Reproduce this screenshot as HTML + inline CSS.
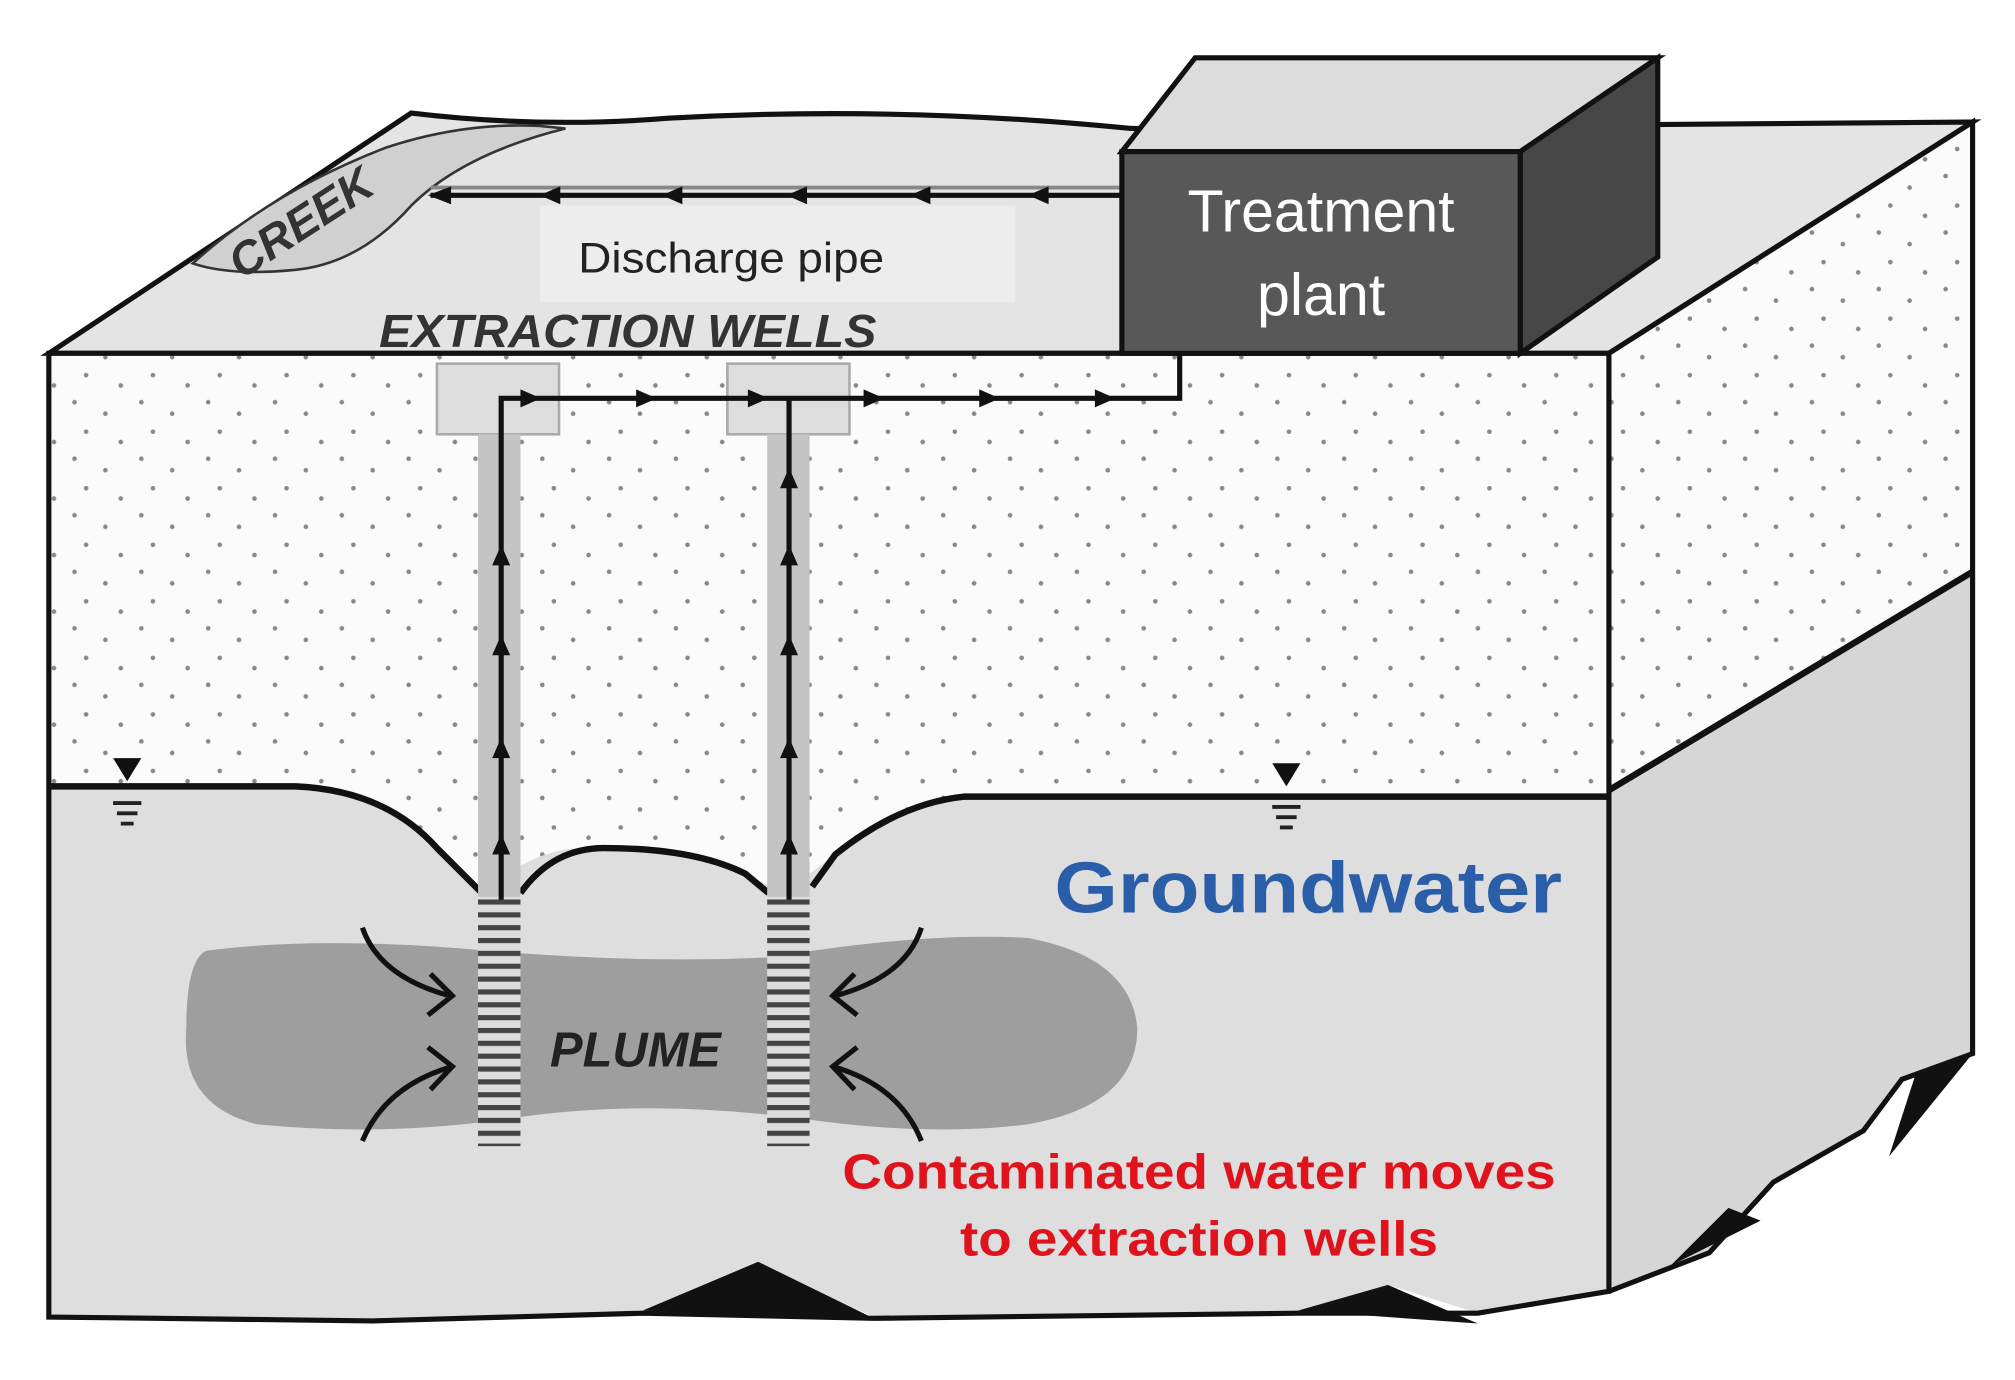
<!DOCTYPE html>
<html><head><meta charset="utf-8"><style>html,body{margin:0;padding:0;background:#fff}svg{display:block}</style></head>
<body>
<svg width="2015" height="1380" viewBox="0 0 1568 1074" preserveAspectRatio="none" xmlns="http://www.w3.org/2000/svg" font-family="Liberation Sans, sans-serif">
<defs>
<pattern id="dots" width="52" height="44" patternUnits="userSpaceOnUse">
<rect width="52" height="44" fill="#fbfbfb"/>
<circle cx="6" cy="5" r="1.8" fill="#888"/><circle cx="30" cy="14" r="1.8" fill="#888"/>
<circle cx="15" cy="28" r="1.8" fill="#888"/><circle cx="42" cy="36" r="1.8" fill="#888"/>
</pattern>
<pattern id="screen" width="10" height="10" patternUnits="userSpaceOnUse">
<rect width="10" height="10" fill="#ddd"/><rect y="0" width="10" height="4" fill="#444"/>
</pattern>
</defs>
<!-- top surface -->
<path d="M38,275 L320,88 Q420,100 520,92 Q700,82 880,100 L1535,95 L1252,275 Z" fill="#e4e4e4" stroke="#111" stroke-width="4"/>
<rect x="420" y="160" width="370" height="75" fill="#ededed"/>
<!-- creek -->
<path d="M150,205 Q210,150 300,115 Q360,95 420,98 L440,100 Q360,120 320,160 Q280,205 230,210 Q180,215 150,205Z" fill="#d0d0d0" stroke="#333" stroke-width="2"/>
<text x="0" y="0" font-size="36" font-weight="bold" font-style="italic" fill="#333" transform="translate(188,218) rotate(-33)">CREEK</text>
<!-- front face -->
<path d="M38,275 L1252,275 L1252,720 L38,720 Z" fill="url(#dots)"/>
<path d="M38,612 L230,612 Q300,615 340,660 L375,695 Q420,655 470,660 Q540,660 580,680 L610,695 L650,665 Q700,625 750,620 L1252,620 L1252,1005 L1150,1022 L1080,1000 L1010,1020 L680,1025 L590,985 L500,1020 L290,1028 L38,1025 Z" fill="#dedede"/>
<path d="M500,1020 L590,982 L680,1026 Z" fill="#111"/>
<path d="M1010,1020 L1080,1000 L1150,1030 Z" fill="#111"/>
<!-- right face -->
<path d="M1252,275 L1535,95 L1535,445 L1252,615 Z" fill="url(#dots)"/>
<path d="M1252,615 L1535,445 L1535,820 L1480,840 L1450,880 L1380,920 L1330,975 L1252,1005 Z" fill="#d6d6d6"/>
<path d="M1490,838 L1535,820 L1470,900 Z M1300,985 L1345,940 L1370,950 Z" fill="#111"/>
<path d="M1252,275 L1535,95 L1535,820 L1480,840 L1450,880 L1380,920 L1330,975 L1252,1005" fill="none" stroke="#111" stroke-width="4"/>
<path d="M1252,615 L1535,445" stroke="#111" stroke-width="5"/>
<!-- front outline -->
<path d="M38,275 L1252,275 L1252,1005 L1150,1022 L1010,1022 L680,1026 L500,1022 L290,1028 L38,1025 Z" fill="none" stroke="#111" stroke-width="4"/>
<!-- plume -->
<path d="M160,740 Q250,728 380,740 Q500,750 600,745 Q720,725 800,730 Q880,745 885,800 Q885,860 800,875 Q720,885 620,870 Q500,855 400,870 Q300,885 200,875 Q140,860 145,800 Q145,748 160,740Z" fill="#9e9e9e"/>
<text x="428" y="830" font-size="38" font-weight="bold" font-style="italic" fill="#222">PLUME</text>
<!-- water table line -->
<path d="M38,612 L230,612 Q300,615 340,660 L375,695 M405,695 Q430,660 470,660 Q540,660 580,680 L598,695 M632,690 L650,665 Q700,625 750,620 L1252,620" fill="none" stroke="#111" stroke-width="5"/>
<path d="M88,590 L110,590 L99,608Z" fill="#111"/><path d="M88,625h22M91,633h16M94,641h10" stroke="#222" stroke-width="3"/>
<path d="M990,594 L1012,594 L1001,612Z" fill="#111"/><path d="M990,628h22M993,636h16M996,644h10" stroke="#222" stroke-width="3"/>
<!-- wells -->
<rect x="340" y="283" width="95" height="55" fill="#ddd" stroke="#aaa" stroke-width="2"/>
<rect x="566" y="283" width="95" height="55" fill="#ddd" stroke="#aaa" stroke-width="2"/>
<rect x="372" y="338" width="33" height="360" fill="#c4c4c4"/>
<rect x="597" y="338" width="33" height="360" fill="#c4c4c4"/>
<rect x="372" y="700" width="33" height="192" fill="url(#screen)"/>
<rect x="597" y="700" width="33" height="192" fill="url(#screen)"/>
<!-- flow lines -->
<path d="M390,700 L390,310 L918,310 L918,275" fill="none" stroke="#111" stroke-width="4"/>
<path d="M614,700 L614,310" fill="none" stroke="#111" stroke-width="4"/>
<g fill="#111">
<path d="M383,665l7,-16l7,16z M383,590l7,-16l7,16z M383,510l7,-16l7,16z M383,440l7,-16l7,16z"/>
<path d="M607,665l7,-16l7,16z M607,590l7,-16l7,16z M607,510l7,-16l7,16z M607,440l7,-16l7,16z M607,380l7,-16l7,16z"/>
<path d="M405,303l16,7l-16,7z M495,303l16,7l-16,7z M582,303l16,7l-16,7z M672,303l16,7l-16,7z M762,303l16,7l-16,7z M852,303l16,7l-16,7z"/>
</g>
<!-- discharge pipe -->
<path d="M335,152 L872,152" stroke="#111" stroke-width="4"/>
<path d="M335,146 L872,146" stroke="#888" stroke-width="3"/>
<g fill="#111"><path d="M333,152l18,-7v14z M420,152l16,-7v14z M515,152l16,-7v14z M612,152l16,-7v14z M708,152l16,-7v14z M800,152l16,-7v14z"/></g>
<text x="450" y="212" font-size="33" fill="#222" textLength="238" lengthAdjust="spacingAndGlyphs">Discharge pipe</text>
<text x="295" y="270" font-size="36" font-weight="bold" font-style="italic" fill="#333" textLength="387" lengthAdjust="spacingAndGlyphs">EXTRACTION WELLS</text>
<!-- treatment plant -->
<path d="M873,118 L930,45 L1290,45 L1183,118Z" fill="#dcdcdc" stroke="#111" stroke-width="4"/>
<path d="M1183,118 L1290,45 L1290,200 L1183,275Z" fill="#474747" stroke="#111" stroke-width="4"/>
<rect x="873" y="118" width="310" height="157" fill="#585858" stroke="#111" stroke-width="4"/>
<text x="1028" y="180" font-size="46" fill="#fff" text-anchor="middle">Treatment</text>
<text x="1028" y="245" font-size="46" fill="#fff" text-anchor="middle">plant</text>
<!-- curved arrows -->
<g fill="none" stroke="#111" stroke-width="4">
<path d="M282,722 Q295,760 350,775"/><path d="M335,758 L352,775 L333,790"/>
<path d="M282,888 Q300,845 352,830"/><path d="M333,815 L352,830 L335,848"/>
<path d="M717,722 Q705,760 650,775"/><path d="M665,758 L648,775 L667,790"/>
<path d="M717,888 Q700,845 648,830"/><path d="M667,815 L648,830 L665,848"/>
</g>
<text x="1018" y="710" font-size="56" font-weight="bold" fill="#2a5ea8" text-anchor="middle" textLength="395" lengthAdjust="spacingAndGlyphs">Groundwater</text>
<text x="933" y="925" font-size="38" font-weight="bold" fill="#e0121b" text-anchor="middle" textLength="555" lengthAdjust="spacingAndGlyphs">Contaminated water moves</text>
<text x="933" y="977" font-size="38" font-weight="bold" fill="#e0121b" text-anchor="middle" textLength="372" lengthAdjust="spacingAndGlyphs">to extraction wells</text>
</svg>
</body></html>
